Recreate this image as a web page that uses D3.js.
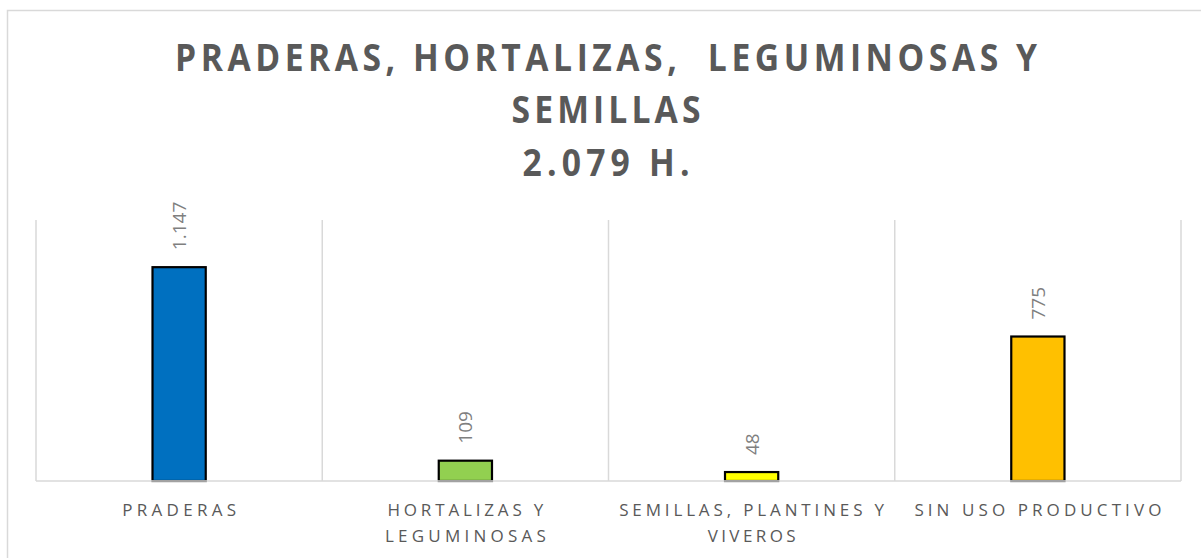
<!DOCTYPE html>
<html>
<head>
<meta charset="utf-8">
<script src="https://cdn.jsdelivr.net/npm/d3@7"></script>
<style>
  html, body { margin: 0; padding: 0; background: #fff; }
  svg { display: block; }
</style>
</head>
<body>
<svg id="chart" width="1201" height="558"></svg>
<script>
// ---- data ----
const titleLines = ["PRADERAS, HORTALIZAS,  LEGUMINOSAS Y", "SEMILLAS", "2.079 H."];
const categories = ["PRADERAS", "HORTALIZAS Y LEGUMINOSAS", "SEMILLAS, PLANTINES Y VIVEROS", "SIN USO PRODUCTIVO"];
const categoryLabelLines = [["PRADERAS"], ["HORTALIZAS Y", "LEGUMINOSAS"], ["SEMILLAS, PLANTINES Y", "VIVEROS"], ["SIN USO PRODUCTIVO"]];
const values = [1147, 109, 48, 775];
const valueLabels = ["1.147", "109", "48", "775"];
const barColors = ["#0070C0", "#92D050", "#FFFF00", "#FFC000"];
const yMax = 1400;

// ---- layout ----
const svg = d3.select("#chart");
const plot = { left: 36, right: 1181, top: 220, bottom: 481 };

svg.append("rect")
  .attr("x", 7.5).attr("y", 10.5)
  .attr("width", 1210).attr("height", 560)
  .attr("fill", "#fff").attr("stroke", "#d9d9d9").attr("stroke-width", 1.5);

// title: slightly condensed glyphs with letter spacing filling the measured width
const titleY = [71, 123, 176];
const titleWidths = [862, 189, 167];
const hScale = 0.91;
const titleG = svg.append("g");
titleLines.forEach((t, i) => {
  titleG.append("text")
    .attr("transform", `translate(606,${titleY[i]}) scale(${hScale},1)`)
    .attr("x", 0).attr("y", 0)
    .attr("text-anchor", "middle")
    .attr("font-family", "'Open Sans', sans-serif")
    .attr("font-weight", 700)
    .attr("font-size", 37)
    .attr("fill", "#595959")
    .attr("textLength", titleWidths[i] / hScale)
    .attr("lengthAdjust", "spacing")
    .style("white-space", "pre")
    .text(t);
});

const x = d3.scaleBand().domain(categories).range([plot.left, plot.right]).paddingInner(0).paddingOuter(0);
const y = d3.scaleLinear().domain([0, yMax]).range([plot.bottom, plot.top]);

// vertical gridlines at category boundaries
const edges = categories.map(c => x(c)).concat([x(categories[categories.length - 1]) + x.bandwidth()]);
svg.append("g").selectAll("line").data(edges).join("line")
  .attr("x1", d => d).attr("x2", d => d)
  .attr("y1", y(yMax)).attr("y2", y(0))
  .attr("stroke", "#d9d9d9").attr("stroke-width", 1.5);

// bars
const barW = x.bandwidth() * 0.186;
svg.append("g").selectAll("rect").data(categories).join("rect")
  .attr("x", (c) => x(c) + x.bandwidth() / 2 - barW / 2)
  .attr("y", (c, i) => y(values[i]))
  .attr("width", barW)
  .attr("height", (c, i) => y(0) - y(values[i]))
  .attr("fill", (c, i) => barColors[i])
  .attr("stroke", "#000").attr("stroke-width", 2.2);

// baseline
svg.append("line")
  .attr("x1", plot.left).attr("x2", plot.right)
  .attr("y1", y(0)).attr("y2", y(0))
  .attr("stroke", "#d9d9d9").attr("stroke-width", 1.5);

// value labels (rotated)
svg.append("g").selectAll("text").data(categories).join("text")
  .attr("transform", (c, i) => `translate(${x(c) + x.bandwidth() / 2 + 7},${y(values[i]) - 17}) rotate(-90)`)
  .attr("text-anchor", "start")
  .attr("font-family", "'Open Sans', sans-serif")
  .attr("font-size", 19)
  .attr("fill", "#7f7f7f")
  .text((c, i) => valueLabels[i]);

// category labels
const labelWidths = [[114], [156, 161], [265, 88], [247]];
const lblG = svg.append("g");
categories.forEach((c, i) => {
  categoryLabelLines[i].forEach((ln, j) => {
    lblG.append("text")
      .attr("x", x(c) + x.bandwidth() / 2)
      .attr("y", 516 + j * 26)
      .attr("text-anchor", "middle")
      .attr("font-family", "'Open Sans', sans-serif")
      .attr("font-size", 17)
      .attr("fill", "#595959")
      .attr("textLength", labelWidths[i][j])
      .attr("lengthAdjust", "spacing")
      .text(ln);
  });
});
</script>
</body>
</html>
